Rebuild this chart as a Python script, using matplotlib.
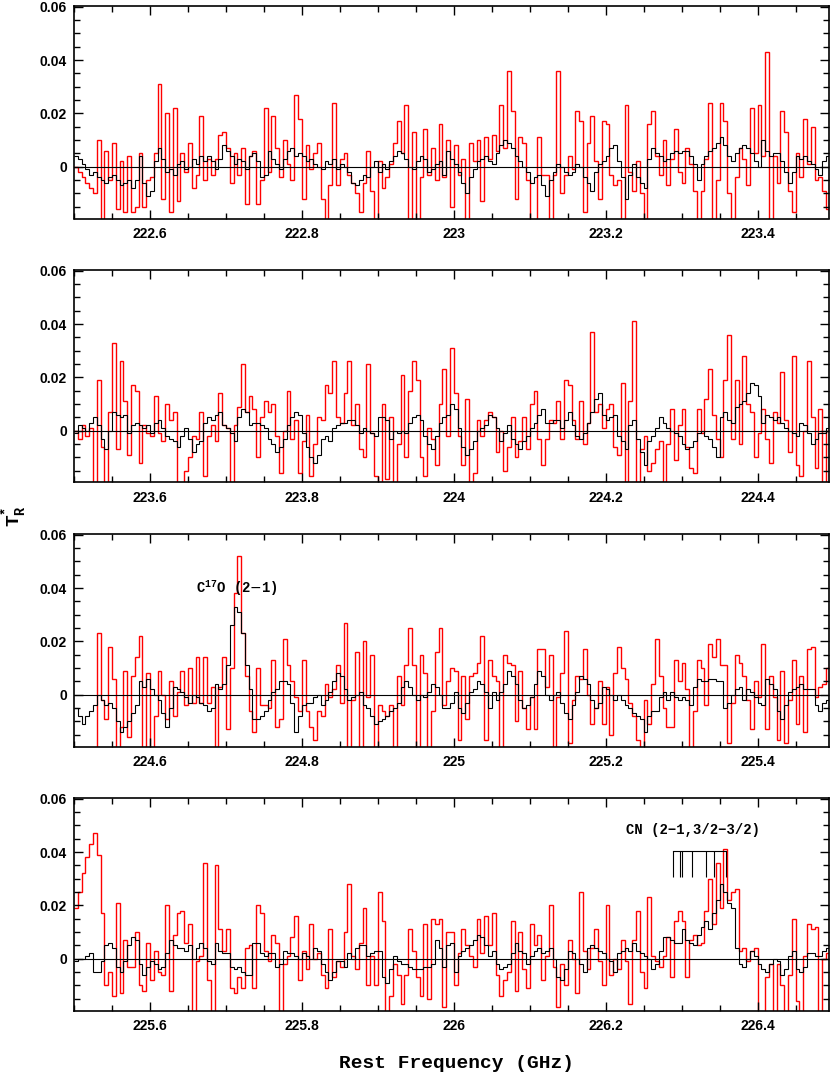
import numpy as np
import matplotlib
matplotlib.use('Agg')
import matplotlib.pyplot as plt
from matplotlib.ticker import MultipleLocator, FuncFormatter

# start frequency of each panel (GHz), 5 MHz channels, values in mK
panel_start = [222.5, 223.5, 224.5, 225.5]
chan_width = 0.005

red_1 = [0, -2, -4, -6, -8, -10, 10, -25, 6, -5, 9, -16, 2, -17, 4, -17, -15, 5, -15, -5,
         -4, 5, 31, -12, 20, -17, 22, -13, 5, -2, 9, -8, -3, 19, -5, 3, -3, 3, 12, 13,
         7, -6, 5, -3, 7, -14, 4, 6, -14, -5, 22, -2, 19, 7, -4, 10, 1, -5, 27, 18,
         -12, 8, -1, 5, 9, -12, -22, -7, 24, -7, 3, 5, -3, -6, -10, -17, -6, 6, -9, -22,
         2, -8, -4, 1, 9, 17, 5, 23, -22, 13, -22, -4, 14, -3, 7, -5, 16, -4, 10, -15,
         8, -3, 3, -25, 9, 2, 10, -13, 11, 3, 12, 6, 23, 7, 36, 21, -12, 11, 9, -5,
         -25, -22, 11, -3, -3, -22, -3, 36, -10, -3, 4, -1, 21, 17, -17, 9, 19, 2, -12, 17,
         16, -3, -7, -5, -25, 23, -2, -9, 2, -10, -25, 16, 21, 4, -3, 10, -7, 3, 14, -2,
         -6, 7, 1, -9, -25, -9, 3, 24, -25, -5, 24, 17, -10, -22, -4, 7, 3, -7, 22, 5,
         23, 4, 43, -25, 4, -6, 21, 13, -9, -17, 5, -4, 18, 1, 15, -5, -4, -9, -16, -20]
black_1 = [4, 3, 1, -1, -3, -2, -4, -5, -6, -4, -3, -5, -7, -6, -5, -8, -5, 4, -6, -11,
           -9, 2, 7, 3, -2, -1, -3, 1, 2, -1, 0, 3, 1, 4, 2, 4, 2, -1, 3, 8,
           6, 4, 1, 3, 2, -1, 4, 5, 2, -4, -3, 6, 3, 1, -1, 3, 6, 7, 4, 5,
           4, 2, 3, 1, 0, -1, 2, 1, 3, -1, 1, 0, -2, -6, -7, -5, -3, -4, 0, 2,
           -2, 1, -1, 2, 4, 6, 5, 3, 0, -1, 2, 4, 3, -2, -1, 1, 2, -3, 6, 3,
           1, -2, -6, -10, -4, -1, 2, 3, 4, 2, 1, 5, 8, 10, 9, 7, 4, 2, 0, -2,
           -6, -4, -3, -7, -11, -5, -2, 1, 0, -2, -3, -2, 1, 0, -4, -6, -9, -2, 1, 2,
           4, 7, 8, 2, -4, -12, -3, 1, -4, -6, -8, 3, 7, 5, 4, 2, 3, 5, 6, 5,
           6, 6, 4, 1, -5, 1, 4, 6, 7, 9, 11, 8, 4, 2, 5, 7, 8, 7, 5, 2,
           0, 10, 6, 4, 5, 5, 2, -2, -6, -2, 4, 3, 4, 2, 1, -1, -3, 2, 4, 5]

red_2 = [0, -3, 2, -2, 1, -25, 19, -6, -25, 7, 33, -7, 26, 11, -9, 17, 15, -12, 2, -1,
         -2, 13, -1, -4, 10, 4, 7, -25, -25, -15, -10, -2, -3, 7, -17, -2, 2, -4, 14, 2,
         1, -25, 2, 9, 25, 7, 13, 8, -10, 5, 11, 7, 10, -2, -16, 0, 15, -3, 4, -16,
         -4, 6, -17, -5, 5, 4, 17, 14, 26, 5, 3, 14, 26, 2, 10, -7, -10, 25, -1, -17,
         -25, 10, -18, 5, -25, -5, 21, -10, 15, 26, 19, -10, -17, 1, -3, -13, 10, 23, -2, 31,
         14, -2, -13, 12, -25, -16, 4, -2, 4, 7, 5, -8, 0, -15, -6, 5, -10, -4, 5, -7,
         10, 15, -3, -13, -3, 4, 3, 11, -3, 19, 17, 4, -3, 11, -5, 3, 37, 7, 10, 1,
         8, 10, -6, -9, 18, -25, 11, 41, -25, -7, -2, -15, -12, -7, -4, -25, -5, 8, -11, 2,
         8, -6, -14, -16, 8, -1, 12, 23, 6, -3, -10, 19, 36, -3, 19, -5, 28, 10, 7, -10,
         -1, 8, -3, -12, 7, 3, 22, 4, -8, 28, -13, -17, 0, 26, 5, -14, 8, -25, 0, 0]
black_2 = [-1, 2, 1, 0, 3, 5, 2, -3, -7, 0, 7, 6, 5, 6, -1, 2, 3, 2, 1, 2,
           -1, 3, 4, 1, -2, -3, -4, -6, -2, 1, -3, -8, -5, -4, 3, 5, 4, 6, 7, 2,
           1, -1, -4, 5, 8, 7, 2, 3, 3, 2, 1, -3, -5, -8, -6, -3, 2, 5, 7, 6,
           -1, -6, -10, -12, -9, -3, -2, -4, 1, 2, 3, 3, 4, 4, 2, -1, 1, 0, -1, -2,
           5, 5, 4, -3, 0, -1, 0, -1, 3, 5, 6, 4, -2, -5, -7, -2, 3, 5, 6, 10,
           8, 1, -6, -9, -7, -4, 0, 1, 2, 6, 5, 1, -4, -1, 2, -3, -5, -7, -4, -2,
           1, 3, 6, 8, 3, 3, 4, 4, 1, 4, 7, 2, -2, -3, -1, 3, 7, 12, 14, 6,
           4, 5, 6, -2, -4, -7, 2, 4, -3, -8, -13, -4, -2, 1, 5, 3, 1, 0, -1, -2,
           -5, -7, -6, -4, -1, 0, -2, -3, -6, -10, 5, 7, 4, 3, 9, 10, 11, 14, 18, 17,
           13, 3, 6, 5, 4, 5, 3, 1, 0, -1, -2, 3, 2, -1, -5, -3, -1, -1, 1, 2]

red_3 = [-25, -25, -25, -25, -25, -25, 23, -2, -9, 18, 6, -25, -12, 9, -16, 7, 14, 22, -25, 8,
         -25, -8, 9, 0, -9, 5, -8, 1, 9, -4, 10, -3, 14, -3, 14, -3, 3, -25, 3, 14,
         -13, 10, 38, 52, 23, 7, -6, -14, 10, -4, -4, -5, 13, -12, -9, 21, 11, 5, -1, -6,
         13, -6, -12, -17, -6, -8, 4, -1, 2, 11, -3, 27, -25, -2, 16, -25, 20, -1, 15, -25,
         -4, -6, -8, -4, -25, 7, -4, 11, 25, 11, -25, 15, 8, -25, -6, 16, 25, -4, 5, 10,
         9, -17, 7, -9, 7, 8, 12, 22, -17, 13, 7, 5, -25, 15, 12, 11, -10, 9, -5, -13,
         -1, -13, 17, 17, 3, 15, -25, -1, 8, 24, -18, -2, 7, 6, 17, 0, -11, -5, 5, -11,
         3, -15, 8, 18, 10, 6, -3, -8, -17, -25, -2, -11, 4, 21, 7, -5, -12, -12, 13, 5,
         12, 2, -25, -6, 13, 10, -4, 19, 14, 21, 11, 11, -18, -3, 15, 12, 7, -2, -13, 5,
         -1, 19, -13, 7, -1, -17, 9, -18, -2, 13, -11, 7, -14, 17, 18, -1, 3, 4, 10, 12]
black_3 = [-5, -8, -11, -8, -6, -4, 0, -2, -4, -3, -5, -10, -14, -12, -10, -7, -4, 5, 3, 6,
           2, 0, -2, -7, -12, -5, 3, 2, 1, -1, -3, 0, -1, -3, -4, -6, -5, 4, 2, 4,
           11, 26, 33, 31, 23, 11, 2, -9, -9, -8, -6, -2, 1, 2, 5, 5, 4, -3, -14, -8,
           -4, -3, -3, -1, 0, -4, -2, 1, 5, 8, 7, 2, -2, -1, 0, 1, -4, -5, -8, -11,
           -10, -9, -8, -6, -5, -3, 3, 5, 3, 0, -2, 0, -1, 1, 4, 3, 0, -5, -5, -3,
           1, -5, -7, -3, 1, 2, 5, 4, 1, -5, 1, -2, 1, 4, 9, 7, 4, -2, -5, -4,
           -1, 4, 9, 7, 0, -2, 0, 1, -3, -7, -9, -4, 1, 7, 6, 4, -2, -5, -3, 3,
           2, 0, -2, 0, -2, -4, -5, -7, -8, -9, -14, -8, -6, -6, -1, 1, -2, 1, -1, -2,
           -1, -2, -4, 3, 6, 5, 5, 6, 6, 5, 5, -5, -3, 0, 2, 3, -2, 2, 1, -1,
           -3, -4, 6, 4, 2, -6, -9, -4, 1, 2, 3, 4, 2, 2, 2, -4, -6, -3, -2, -1]

red_4 = [19, 25, 32, 38, 43, 47, 39, 17, -10, -5, -14, 21, -13, 7, -3, -3, 10, -10, -12, 6,
         -8, 3, -5, -6, 20, -12, 9, 17, 18, 6, 13, -25, -1, 1, 36, -8, -25, 35, 11, 3,
         11, -11, -13, -7, -11, 4, 5, -11, 20, 17, 3, -1, 9, 6, -25, -2, 1, 8, 16, -8,
         3, -4, 13, 0, 2, -6, -11, 11, -7, -1, -3, 10, 28, 1, -4, 6, 19, -10, 1, -10,
         25, 14, -25, -14, -2, -6, -17, -6, 11, 3, -7, -14, 13, -15, 15, 13, 15, -18, 10, 10,
         -10, 2, 11, 5, 1, -3, 15, 2, 16, 5, 17, -6, -14, -8, -5, 14, -12, 10, -4, -11,
         13, 5, 9, -8, 1, 20, -3, -18, -2, -10, 7, 0, -13, 25, 3, -4, 4, 11, -1, -10,
         20, -6, 0, -4, 7, -1, -17, 7, 18, -5, -11, 23, 1, -1, -3, 1, 8, -7, 14, 18,
         14, -7, 7, 9, 5, 6, 18, 30, 13, 36, 19, 41, 22, 25, 26, 3, 4, -1, 3, 4,
         -25, -25, -7, -2, -25, -2, -10, -25, -6, 15, -16, -25, 1, 13, 11, 12, -25, 0, 2, 2]
black_4 = [-1, 0, 0, 1, 2, -5, -5, -1, 5, 6, 4, -3, -5, -1, 5, 8, 7, -2, -6, -3,
           -1, -2, -4, -3, 2, 7, 5, 4, 4, 3, 5, 0, 4, 6, 4, -1, -2, 6, 3, 2,
           2, -3, -4, -3, -5, -6, -6, 6, 6, 2, 1, 2, 2, -3, -2, 3, 2, 2, 1, 0,
           2, 1, 0, 4, 3, -2, -5, -8, -5, -1, -1, -3, 2, 0, 4, 5, 5, 1, 2, 3,
           3, -7, -9, -4, 1, -1, -2, -2, -3, -4, -4, -4, -3, -3, -2, 7, 4, -3, 5, 6,
           -5, 1, 3, 4, 5, 7, 9, 8, 5, 1, 3, -2, -4, -3, -2, 2, 6, 3, 2, -2,
           1, 3, 4, 2, 3, 4, 0, -7, -8, -4, 3, 2, 0, -2, -5, 4, 5, 4, 3, 2,
           0, -1, -5, 2, 3, 4, 3, 6, 3, 2, 1, 0, -4, -2, 3, 8, 8, 7, 6, 6,
           11, 7, 6, 5, 9, 12, 14, 11, 17, 22, 28, 25, 21, 19, 4, -2, -3, 0, 3, 1,
           -2, -4, -5, -2, 0, -1, -6, -4, 1, 3, -4, -5, -3, 2, 2, 1, 1, 3, 4, 4]

red_data = [red_1, red_2, red_3, red_4]
black_data = [black_1, black_2, black_3, black_4]

# CN hyperfine components (GHz)
cn_lines = [226.288, 226.298, 226.301, 226.314, 226.332, 226.342, 226.359]

mono = 'Liberation Mono'
plt.rcParams['font.family'] = ['Liberation Sans', 'DejaVu Sans']

fig = plt.figure(figsize=(8.30, 10.78), dpi=100)

left = 74 / 830
width = 755 / 830
height = 212.5 / 1078
bottoms = [1 - 218.5 / 1078, 1 - 482.5 / 1078, 1 - 746.5 / 1078, 1 - 1010.5 / 1078]

fmt = FuncFormatter(lambda v, p: f'{v:g}')

axes = []
for n in range(4):
    ax = fig.add_axes([left, bottoms[n], width, height])
    f0 = panel_start[n]
    edges = f0 + chan_width * np.arange(len(red_data[n]) + 1)
    ax.stairs(np.array(red_data[n]) * 1e-3, edges, baseline=None, color='red', lw=1.0)
    ax.stairs(np.array(black_data[n]) * 1e-3, edges, baseline=None, color='black', lw=0.8)
    ax.axhline(0, color='black', lw=0.8)

    ax.set_xlim(f0, f0 + 0.994)
    ax.set_ylim(-0.0194, 0.0603)
    ax.xaxis.set_major_locator(MultipleLocator(0.2))
    ax.xaxis.set_minor_locator(MultipleLocator(0.05))
    ax.yaxis.set_major_locator(MultipleLocator(0.02))
    ax.yaxis.set_minor_locator(MultipleLocator(0.005))
    ax.xaxis.set_major_formatter(fmt)
    ax.yaxis.set_major_formatter(fmt)
    ax.tick_params(which='both', direction='in', top=True, right=True, width=1.0)
    ax.tick_params(which='major', length=6.5)
    ax.tick_params(which='minor', length=4)
    ax.tick_params(axis='x', pad=6)
    ax.tick_params(axis='y', pad=5)
    for lab in ax.get_xticklabels() + ax.get_yticklabels():
        lab.set_fontweight('bold')
        lab.set_fontsize(10)
    for sp in ax.spines.values():
        sp.set_linewidth(1.2)
    axes.append(ax)

# line labels
axes[2].text(224.715, 0.0399, r'C$^{\mathregular{17}}$O (2$-$1)', family=mono,
             fontsize=10, fontweight='bold', ha='center', va='center')
axes[3].text(226.315, 0.0484, 'CN (2\u22121,3/2\u22123/2)', family=mono,
             fontsize=10, fontweight='bold', ha='center', va='center')
axes[3].plot([cn_lines[0], cn_lines[-1]], [0.0405, 0.0405], color='black', lw=0.8)
axes[3].vlines(cn_lines, 0.0305, 0.0405, color='black', lw=0.8)

fig.text(456 / 830, 1 - 1064 / 1078, 'Rest Frequency (GHz)', family=mono,
         fontsize=14, fontweight='bold', ha='center', va='center')
fig.text(15 / 830, 1 - 516 / 1078, r'T$_{\mathregular{R}}^{\mathregular{*}}$', family=mono,
         fontsize=14, fontweight='bold', rotation=90, ha='center', va='center')

fig.savefig('out.png', dpi=100)
